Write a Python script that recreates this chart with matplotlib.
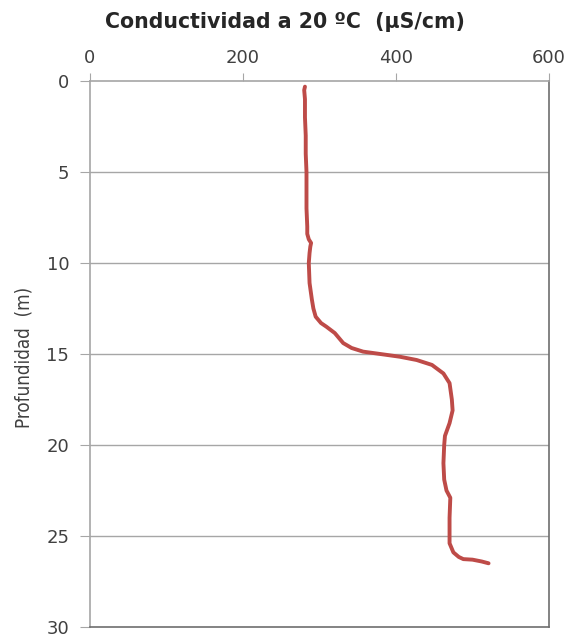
import matplotlib
matplotlib.use("Agg")
import matplotlib.pyplot as plt

depth = [0.31, 0.5, 1.0, 2.0, 3.0, 4.0, 5.0, 6.0, 7.0, 8.0, 8.4, 8.7, 8.9, 9.1, 9.45,
         10.0, 11.1, 12.0, 12.5, 12.95, 13.3, 13.5, 13.85, 14.4, 14.67, 14.87, 15.05,
         15.15, 15.33, 15.6, 16.07, 16.6, 17.5, 18.1, 18.8, 19.5, 20.0, 21.0, 21.9,
         22.5, 22.9, 24.0, 25.4, 25.9, 26.15, 26.27, 26.3, 26.4, 26.5]
conductivity = [281, 280, 281, 281, 282, 282, 283, 283, 283, 284, 284, 286, 289, 288, 287,
                286, 287, 290, 292, 295, 302, 309, 320, 331, 342, 357, 388,
                405, 427, 447, 462, 470, 473, 474, 470, 464, 463, 462, 463,
                466, 471, 470, 470, 475, 482, 488, 500, 512, 521]
x_ticks = [0, 200, 400, 600]
y_ticks = [0, 5, 10, 15, 20, 25, 30]

fig = plt.figure(figsize=(5.71, 6.37), dpi=100)
ax = fig.add_axes([90/571, 1-627/637, 459/571, 546/637])

ax.plot(conductivity, depth, color="#BE4B48", lw=2.8, solid_capstyle="round", zorder=3)

ax.set_xlim(0, 600)
ax.set_ylim(30, 0)
ax.xaxis.tick_top()
ax.set_xticks(x_ticks)
ax.set_yticks(y_ticks)
for yv in y_ticks[1:-1]:
    ax.axhline(yv, color="#A6A6A6", lw=1.0, zorder=1)

ax.tick_params(axis="x", top=True, bottom=False, direction="out", length=6,
               color="#A6A6A6", labelsize=13, labelcolor="#404040", pad=4)
ax.tick_params(axis="y", direction="out", length=7, color="#A6A6A6",
               labelsize=13, labelcolor="#404040", pad=8)

ax.spines["top"].set_color("#A6A6A6")
ax.spines["left"].set_color("#A6A6A6")
ax.spines["right"].set_color("#6E6E6E")
ax.spines["bottom"].set_color("#6E6E6E")
for s in ax.spines.values():
    s.set_linewidth(1.2)

fig.text(285/571, 1-22/637, "Conductividad a 20 ºC  (µS/cm)", ha="center", va="center",
         fontsize=14.8, fontweight="bold", color="#262626")
fig.text(24/571, 1-357/637, "Profundidad  (m)", ha="center", va="center", rotation=90,
         fontsize=13.5, color="#404040", fontstretch="condensed")

fig.savefig("out.png", dpi=100)
